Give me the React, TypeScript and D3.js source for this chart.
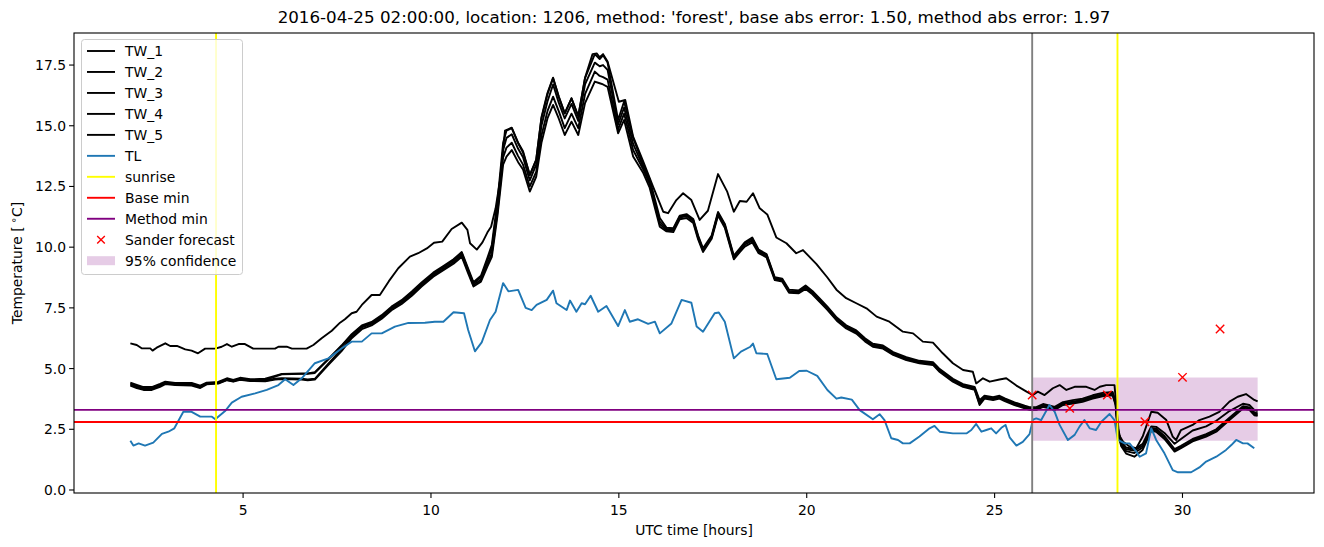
import React from "react";
import * as d3 from "d3";

const TITLE = "2016-04-25 02:00:00, location: 1206, method: 'forest', base abs error: 1.50, method abs error: 1.97";
const X_TICKS = [5, 10, 15, 20, 25, 30];
const Y_TICKS = [0, 2.5, 5, 7.5, 10, 12.5, 15, 17.5];

const tw1Time = [2.0,2.17,2.31,2.53,2.59,2.7,2.93,3.06,3.24,3.46,3.63,3.8,3.99,4.26,4.43,4.57,4.7,4.88,5.05,5.27,5.85,5.94,6.16,6.3,6.69,6.87,7.09,7.36,7.58,7.71,7.89,8.02,8.16,8.42,8.64,8.88,9.13,9.44,9.66,9.89,10.08,10.3,10.55,10.82,10.97,11.04,11.22,11.37,11.5,11.6,11.72,11.84,11.97,12.15,12.32,12.45,12.63,12.8,12.94,13.1,13.25,13.4,13.56,13.74,13.92,14.1,14.3,14.41,14.49,14.58,14.7,15.0,15.17,15.38,15.65,15.91,16.18,16.31,16.53,16.71,16.93,17.15,17.37,17.64,17.88,18.06,18.22,18.4,18.57,18.75,18.95,19.19,19.46,19.72,19.9,20.26,20.55,20.79,21.05,21.32,21.59,21.86,22.2,22.56,22.83,23.09,23.36,23.62,23.89,24.16,24.42,24.51,24.69,24.87,25.13,25.31,25.58,25.85,26.02,26.15,26.33,26.55,26.73,26.91,27.13,27.44,27.66,27.8,27.97,28.19,28.25,28.31,28.42,28.6,28.77,28.94,29.17,29.34,29.57,29.74,29.83,29.96,30.27,30.45,30.72,30.98,31.25,31.47,31.69,31.91,32.0];
const TW_1 = [6.04,5.97,5.83,5.83,5.74,5.86,6.04,5.93,5.93,5.79,5.74,5.63,5.82,5.82,5.9,6.01,5.9,6.01,6.01,5.82,5.82,5.9,5.9,5.82,5.82,5.97,6.25,6.56,6.89,7.03,7.28,7.34,7.62,8.03,8.03,8.6,9.13,9.61,9.75,9.95,10.18,10.23,10.75,11.01,10.71,10.16,9.9,10.2,10.6,10.84,11.6,12.77,14.8,14.92,14.3,13.95,12.97,13.6,15.35,16.35,16.98,16.2,15.51,16.13,15.4,16.98,17.95,17.98,17.82,17.95,17.65,15.99,16.06,14.55,13.52,12.49,11.46,11.4,11.94,12.22,11.94,11.12,11.5,13.01,12.3,11.46,11.9,11.87,12.22,11.6,11.35,10.4,10.16,9.75,9.88,9.3,8.75,8.25,7.9,7.69,7.48,7.14,6.93,6.52,6.45,6.11,6.07,5.63,5.22,4.94,4.87,4.39,4.6,4.46,4.55,4.6,4.3,4.05,3.91,4.05,3.91,4.19,4.32,4.12,4.25,4.25,4.12,4.25,4.32,4.32,3.29,2.27,1.99,1.78,1.72,2.2,3.22,3.18,2.88,2.2,2.06,2.47,2.68,2.88,3.02,3.22,3.64,3.84,3.95,3.71,3.65];

const twTime = [
  2.0,2.17,2.35,2.57,2.79,2.93,3.19,3.63,3.86,4.03,
  4.34,4.57,4.74,4.92,5.19,5.59,5.85,6.03,6.56,6.72,
  6.91,7.27,7.62,7.89,8.16,8.42,8.69,8.95,9.22,9.49,
  9.75,10.06,10.33,10.6,10.82,10.99,11.13,11.33,11.5,11.62,
  11.77,11.92,12.01,12.15,12.32,12.45,12.63,12.8,12.94,13.1,
  13.25,13.4,13.56,13.74,13.92,14.1,14.36,14.49,14.58,14.7,
  14.98,15.14,15.38,15.65,15.82,16.09,16.27,16.45,16.62,16.8,
  16.98,17.11,17.24,17.47,17.64,17.82,18.06,18.22,18.35,18.55,
  18.72,18.93,19.15,19.35,19.53,19.79,19.97,20.15,20.35,20.55,
  20.8,21.05,21.32,21.55,21.76,22.03,22.3,22.65,23.0,23.36,
  23.54,23.89,24.16,24.47,24.6,24.73,24.96,25.13,25.27,25.53,
  25.8,25.93,26.11,26.29,26.6,26.82,27.08,27.34,27.61,27.87,
  28.14,28.22,28.28,28.37,28.5,28.72,28.94,29.17,29.3,29.52,
  29.79,29.96,30.27,30.63,30.9,31.25,31.61,31.78,31.91,32.0];
const TW_2 = [
  4.42,4.33,4.24,4.24,4.37,4.46,4.41,4.41,4.3,4.42,
  4.45,4.6,4.53,4.62,4.56,4.58,4.7,4.78,4.8,4.8,
  4.85,5.4,5.95,6.42,6.78,6.92,7.2,7.55,7.82,8.18,
  8.55,8.95,9.22,9.5,9.8,9.12,8.56,8.82,9.55,10.1,
  11.9,14.3,14.8,14.9,14.28,13.9,12.97,13.6,15.3,16.3,
  16.96,16.2,15.51,16.13,15.38,16.96,17.95,17.75,17.9,17.6,
  15.24,16.0,14.5,13.4,12.8,11.2,10.8,10.78,11.3,11.36,
  11.16,10.48,9.95,10.48,11.45,10.96,9.65,9.95,10.2,10.4,
  9.9,9.72,8.76,8.7,8.25,8.22,8.42,8.2,7.88,7.55,
  7.1,6.78,6.57,6.25,6.02,5.95,5.68,5.47,5.32,5.26,
  4.98,4.58,4.36,4.24,3.7,3.88,3.82,3.88,3.77,3.61,
  3.47,3.41,3.41,3.54,3.42,3.62,3.7,3.76,3.9,4.0,
  4.04,3.65,2.55,2.0,1.75,1.68,1.9,2.62,2.6,2.35,
  1.9,2.1,2.45,2.62,2.85,3.25,3.55,3.5,3.3,3.25];
const TW_3 = [
  4.38,4.29,4.2,4.2,4.33,4.42,4.38,4.38,4.26,4.39,
  4.42,4.56,4.5,4.58,4.53,4.53,4.67,4.76,4.78,4.78,
  4.82,5.38,5.92,6.38,6.74,6.88,7.16,7.5,7.78,8.12,
  8.5,8.9,9.16,9.45,9.75,9.06,8.5,8.76,9.45,9.95,
  11.7,14.0,14.5,14.65,14.05,13.7,12.75,13.4,15.0,16.0,
  16.7,15.95,15.3,15.9,15.2,16.7,17.6,17.45,17.5,17.3,
  15.05,15.75,14.25,13.3,12.7,11.05,10.75,10.72,11.26,11.32,
  11.12,10.43,9.9,10.43,11.4,10.91,9.6,9.9,10.16,10.35,
  9.85,9.68,8.72,8.65,8.2,8.17,8.37,8.15,7.83,7.5,
  7.05,6.73,6.52,6.2,5.97,5.9,5.63,5.42,5.28,5.22,
  4.94,4.53,4.32,4.19,3.62,3.84,3.78,3.84,3.73,3.57,
  3.43,3.37,3.37,3.5,3.37,3.57,3.64,3.71,3.84,3.95,
  3.98,3.6,2.47,1.92,1.68,1.62,1.82,2.56,2.52,2.22,
  1.68,1.82,2.1,2.3,2.5,2.98,3.45,3.4,3.2,3.15];
const TW_4 = [
  4.34,4.25,4.16,4.16,4.29,4.39,4.35,4.35,4.23,4.37,
  4.4,4.54,4.48,4.56,4.51,4.5,4.58,4.6,4.58,4.55,
  4.58,5.2,5.8,6.3,6.7,6.84,7.1,7.45,7.72,8.05,
  8.44,8.84,9.1,9.38,9.68,9.0,8.44,8.66,9.3,9.75,
  11.45,13.7,14.1,14.3,13.75,13.4,12.5,13.1,14.6,15.6,
  16.2,15.6,14.9,15.5,14.9,16.3,17.23,17.05,17.0,16.9,
  14.85,15.5,14.0,13.2,12.6,10.95,10.7,10.68,11.22,11.28,
  11.08,10.38,9.86,10.4,11.36,10.86,9.56,9.85,10.1,10.28,
  9.8,9.64,8.68,8.62,8.16,8.13,8.32,8.1,7.78,7.46,
  7.01,6.69,6.48,6.16,5.93,5.86,5.6,5.38,5.25,5.18,
  4.9,4.5,4.28,4.15,3.55,3.8,3.74,3.8,3.7,3.53,
  3.4,3.34,3.34,3.46,3.34,3.53,3.6,3.67,3.8,3.9,
  3.94,3.55,2.4,1.86,1.6,1.52,1.75,2.5,2.46,2.16,
  1.62,1.76,2.04,2.25,2.44,2.92,3.4,3.35,3.14,3.1];
const TW_5 = [
  4.3,4.2,4.12,4.12,4.25,4.36,4.32,4.3,4.2,4.35,
  4.38,4.52,4.46,4.54,4.49,4.48,4.55,4.57,4.55,4.52,
  4.55,5.15,5.72,6.25,6.62,6.78,7.05,7.4,7.66,8.0,
  8.38,8.78,9.05,9.32,9.6,8.92,8.38,8.58,9.2,9.6,
  11.3,13.4,13.73,14.0,13.5,13.2,12.29,12.9,14.3,15.3,
  15.86,15.3,14.62,15.17,14.62,15.93,16.82,16.75,16.7,16.6,
  14.69,15.24,13.73,13.05,12.45,10.84,10.65,10.62,11.15,11.2,
  11.0,10.32,9.8,10.35,11.3,10.8,9.5,9.8,10.02,10.2,
  9.75,9.58,8.64,8.58,8.12,8.1,8.28,8.06,7.74,7.42,
  6.97,6.65,6.44,6.12,5.9,5.82,5.56,5.35,5.22,5.15,
  4.86,4.46,4.25,4.12,3.5,3.76,3.7,3.76,3.66,3.5,
  3.36,3.3,3.3,3.42,3.3,3.5,3.56,3.63,3.76,3.86,
  3.9,3.5,2.35,1.8,1.5,1.37,1.65,2.45,2.4,2.1,
  1.58,1.72,2.0,2.2,2.4,2.88,3.35,3.3,3.08,3.05];

const tlTime = [2.0,2.08,2.22,2.39,2.61,2.84,3.01,3.17,3.41,3.63,3.86,4.17,4.26,4.52,4.7,4.96,5.32,5.63,5.94,6.12,6.34,6.56,6.91,7.27,7.62,7.89,8.16,8.42,8.69,9.04,9.4,9.84,10.1,10.33,10.6,10.88,10.99,11.17,11.35,11.57,11.72,11.92,12.06,12.32,12.52,12.68,12.81,13.08,13.25,13.34,13.61,13.7,13.87,14.01,14.1,14.25,14.45,14.67,14.98,15.16,15.29,15.51,15.78,15.96,16.09,16.4,16.67,16.93,17.07,17.24,17.55,17.66,17.82,18.06,18.25,18.5,18.57,18.66,18.95,19.19,19.55,19.8,20.0,20.28,20.55,20.79,20.92,21.2,21.41,21.76,21.94,22.07,22.25,22.43,22.56,22.74,23.0,23.27,23.4,23.54,23.89,24.25,24.38,24.51,24.65,24.78,24.91,25.04,25.18,25.29,25.4,25.58,25.75,25.93,26.02,26.11,26.24,26.46,26.6,26.73,26.95,27.13,27.26,27.39,27.53,27.7,27.84,28.06,28.19,28.28,28.46,28.59,28.77,28.86,29.03,29.17,29.3,29.52,29.74,29.88,30.23,30.45,30.63,30.9,31.16,31.3,31.43,31.61,31.73,31.91];
const TL = [2.03,1.83,1.92,1.83,1.95,2.31,2.4,2.54,3.22,3.22,3.02,3.02,2.91,3.25,3.6,3.84,3.98,4.12,4.32,4.56,4.32,4.6,5.22,5.42,5.83,6.11,6.11,6.45,6.45,6.73,6.88,6.89,6.93,6.93,7.32,7.28,6.59,5.71,6.08,7.0,7.34,8.52,8.18,8.24,7.5,7.41,7.62,7.83,8.21,7.69,7.41,7.8,7.34,7.69,7.65,8.0,7.34,7.58,6.75,7.41,6.93,7.03,6.84,6.93,6.45,6.86,7.83,7.71,6.73,6.52,7.28,7.31,6.93,5.42,5.7,5.9,6.03,5.63,5.6,4.56,4.62,4.9,4.91,4.7,4.12,3.76,3.81,3.72,3.29,2.91,3.12,2.88,2.13,2.06,1.92,1.92,2.2,2.54,2.64,2.4,2.33,2.33,2.47,2.72,2.4,2.47,2.54,2.33,2.56,2.68,2.17,1.83,1.98,2.3,2.9,2.95,2.88,3.5,3.22,2.68,2.06,2.27,2.61,2.88,2.54,2.47,2.81,3.13,2.88,2.06,1.92,1.92,1.58,1.37,1.51,2.54,2.06,1.51,0.82,0.73,0.73,0.93,1.17,1.37,1.65,1.85,2.06,1.92,1.92,1.72];

const SUNRISE = [4.28, 28.27];
const FORECAST_START = 26;
const BASE_MIN = 2.8;
const METHOD_MIN = 3.3;
const sanderTime = [26, 27, 28, 29, 30, 31];
const sanderValue = [3.91, 3.36, 3.91, 2.81, 4.64, 6.63];
const ciTime = [26, 32];
const ciLower = [2.03, 2.03];
const ciUpper = [4.63, 4.63];

const LEGEND = [
  { label: "TW_1", kind: "line", color: "#000000" },
  { label: "TW_2", kind: "line", color: "#000000" },
  { label: "TW_3", kind: "line", color: "#000000" },
  { label: "TW_4", kind: "line", color: "#000000" },
  { label: "TW_5", kind: "line", color: "#000000" },
  { label: "TL", kind: "line", color: "#1f77b4" },
  { label: "sunrise", kind: "line", color: "#ffff00" },
  { label: "Base min", kind: "line", color: "#ff0000" },
  { label: "Method min", kind: "line", color: "#800080" },
  { label: "Sander forecast", kind: "x", color: "#ff0000" },
  { label: "95% confidence", kind: "patch", color: "#800080" },
];

const W = 1324, H = 547;
const L = 74, R = 1314, T = 33, B = 493;
const FONT = "DejaVu Sans, sans-serif";
const FS = 13.9;

export default function App() {
  const x = d3.scaleLinear().domain([0.5, 33.5]).range([L, R]);
  const y = d3.scaleLinear().domain([-0.124, 18.82]).range([B, T]);
  const line = (ts: number[], vs: number[]) =>
    d3.line<number>().defined((_, i) => vs[i] !== undefined).x((_, i) => x(ts[i])).y((_, i) => y(vs[i]))(ts) || "";
  const area = d3.area<number>().x((_, i) => x(ciTime[i])).y0((_, i) => y(ciLower[i])).y1((_, i) => y(ciUpper[i]))(ciTime) || "";
  const tws = [
    { t: tw1Time, v: TW_1 },
    { t: twTime, v: TW_2 },
    { t: twTime, v: TW_3 },
    { t: twTime, v: TW_4 },
    { t: twTime, v: TW_5 },
  ];
  const lw = 1.9;
  const legX = 81.5, legY = 39.5, legW = 161, legH = 235, rowH = 20.97;
  return (
    <svg width={W} height={H} style={{ position: "absolute", left: 0, top: 0, background: "#fff" }} fontFamily={FONT}>
      <defs>
        <clipPath id="ax"><rect x={L} y={T} width={R - L} height={B - T} /></clipPath>
      </defs>
      <rect x={0} y={0} width={W} height={H} fill="#fff" />
      <g clipPath="url(#ax)">
        <path d={area} fill="#800080" fillOpacity={0.2} />
        {tws.map((s, i) => (
          <path key={i} d={line(s.t, s.v)} fill="none" stroke="#000" strokeWidth={lw} strokeLinejoin="round" />
        ))}
        <path d={line(tlTime, TL)} fill="none" stroke="#1f77b4" strokeWidth={lw} strokeLinejoin="round" />
        <line x1={x(FORECAST_START)} x2={x(FORECAST_START)} y1={T} y2={B} stroke="#808080" strokeWidth={lw} />
        {SUNRISE.map((s, i) => (
          <line key={i} x1={x(s)} x2={x(s)} y1={T} y2={B} stroke="#ffff00" strokeWidth={lw} />
        ))}
        <line x1={L} x2={R} y1={y(BASE_MIN)} y2={y(BASE_MIN)} stroke="#ff0000" strokeWidth={lw} />
        <line x1={L} x2={R} y1={y(METHOD_MIN)} y2={y(METHOD_MIN)} stroke="#800080" strokeWidth={lw} />
        {sanderTime.map((t, i) => {
          const cx = x(t), cy = y(sanderValue[i]), r = 4.2;
          return (
            <path key={i} d={`M${cx - r},${cy - r}L${cx + r},${cy + r}M${cx - r},${cy + r}L${cx + r},${cy - r}`} stroke="#ff0000" strokeWidth={1.4} />
          );
        })}
      </g>
      <rect x={L} y={T} width={R - L} height={B - T} fill="none" stroke="#000" strokeWidth={1.1} />
      {X_TICKS.map((t) => (
        <g key={t}>
          <line x1={x(t)} x2={x(t)} y1={B} y2={B + 4.9} stroke="#000" strokeWidth={1.1} />
          <text x={x(t)} y={B + 21.5} fontSize={FS} textAnchor="middle">{t}</text>
        </g>
      ))}
      {Y_TICKS.map((v) => (
        <g key={v}>
          <line x1={L - 4.9} x2={L} y1={y(v)} y2={y(v)} stroke="#000" strokeWidth={1.1} />
          <text x={L - 8} y={y(v) + 5} fontSize={FS} textAnchor="end">{v.toFixed(1)}</text>
        </g>
      ))}
      <text x={(L + R) / 2} y={535} fontSize={FS} textAnchor="middle">UTC time [hours]</text>
      <text transform={`translate(22,${(T + B) / 2}) rotate(-90)`} fontSize={FS} textAnchor="middle">
        Temperature [<tspan dy={-5} fontSize={10}> ∘</tspan><tspan dy={5}>C]</tspan>
      </text>
      <text x={(L + R) / 2} y={23} fontSize={16.7} textAnchor="middle">{TITLE}</text>
      <g>
        <rect x={legX} y={legY} width={legW} height={legH} rx={3} fill="#fff" fillOpacity={0.8} stroke="#cccccc" strokeWidth={1} />
        {LEGEND.map((e, i) => {
          const cy = 51 + i * rowH;
          return (
            <g key={e.label}>
              {e.kind === "line" && <line x1={87} x2={115} y1={cy} y2={cy} stroke={e.color} strokeWidth={lw} />}
              {e.kind === "x" && (
                <path d={`M${101 - 3.8},${cy - 3.8}L${101 + 3.8},${cy + 3.8}M${101 - 3.8},${cy + 3.8}L${101 + 3.8},${cy - 3.8}`} stroke={e.color} strokeWidth={1.4} />
              )}
              {e.kind === "patch" && <rect x={87} y={cy - 4.5} width={28} height={9} fill={e.color} fillOpacity={0.2} />}
              <text x={125} y={cy + 5} fontSize={FS}>{e.label}</text>
            </g>
          );
        })}
      </g>
    </svg>
  );
}
